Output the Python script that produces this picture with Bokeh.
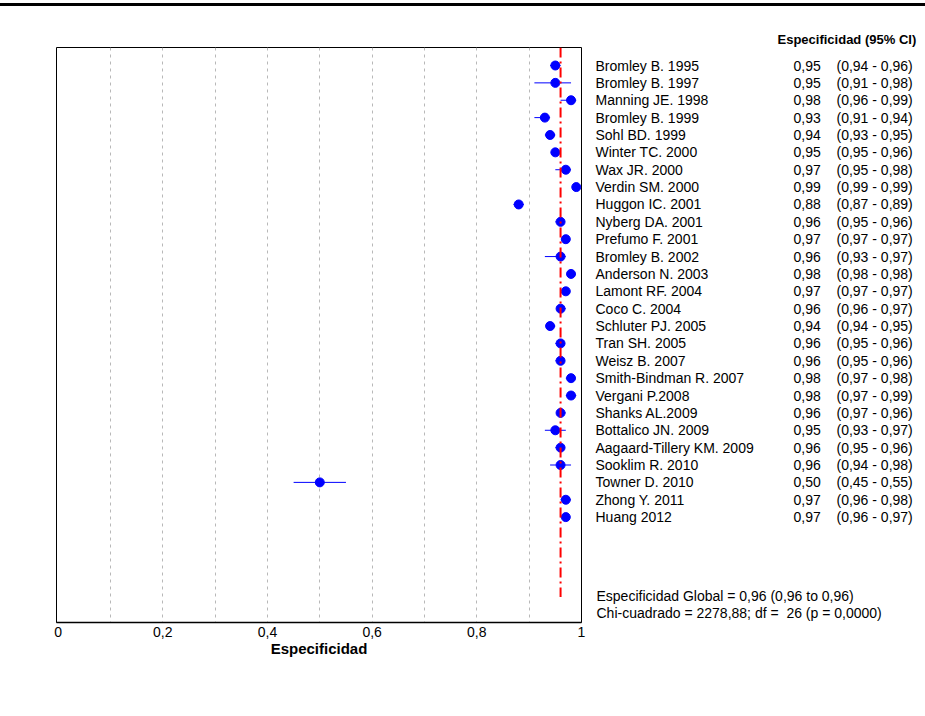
from bokeh.plotting import figure
from bokeh.models import ColumnDataSource, Range1d, FixedTicker, Div
from bokeh.layouts import column, row
from bokeh.core.properties import value
from bokeh.embed import file_html
from bokeh.resources import INLINE

# ---------------- data ----------------
studies = [
    "Bromley B. 1995", "Bromley B. 1997", "Manning JE. 1998", "Bromley B. 1999",
    "Sohl BD. 1999", "Winter TC. 2000", "Wax JR. 2000", "Verdin SM. 2000",
    "Huggon IC. 2001", "Nyberg DA. 2001", "Prefumo F. 2001", "Bromley B. 2002",
    "Anderson N. 2003", "Lamont RF. 2004", "Coco C. 2004", "Schluter PJ. 2005",
    "Tran SH. 2005", "Weisz B. 2007", "Smith-Bindman R. 2007", "Vergani P.2008",
    "Shanks AL.2009", "Bottalico JN. 2009", "Aagaard-Tillery KM. 2009",
    "Sooklim R. 2010", "Towner D. 2010", "Zhong Y. 2011", "Huang 2012",
]
spec = [0.95, 0.95, 0.98, 0.93, 0.94, 0.95, 0.97, 0.99, 0.88, 0.96, 0.97, 0.96,
        0.98, 0.97, 0.96, 0.94, 0.96, 0.96, 0.98, 0.98, 0.96, 0.95, 0.96, 0.96,
        0.50, 0.97, 0.97]
ci_low = [0.94, 0.91, 0.96, 0.91, 0.93, 0.95, 0.95, 0.99, 0.87, 0.95, 0.97, 0.93,
          0.98, 0.97, 0.96, 0.94, 0.95, 0.95, 0.97, 0.97, 0.97, 0.93, 0.95, 0.94,
          0.45, 0.96, 0.96]
ci_high = [0.96, 0.98, 0.99, 0.94, 0.95, 0.96, 0.98, 0.99, 0.89, 0.96, 0.97, 0.97,
           0.98, 0.97, 0.97, 0.95, 0.96, 0.96, 0.98, 0.99, 0.96, 0.97, 0.96, 0.98,
           0.55, 0.98, 0.97]
pooled = 0.96
header_text = "Especificidad (95% CI)"
pooled_text = "Especificidad Global = 0,96 (0,96 to 0,96)"
chi_text = "Chi-cuadrado = 2278,88; df =  26 (p = 0,0000)"
x_title = "Especificidad"
x_ticks = [0, 0.2, 0.4, 0.6, 0.8, 1.0]
x_tick_labels = ["0", "0,2", "0,4", "0,6", "0,8", "1"]
grid_ticks = [0.1, 0.2, 0.3, 0.4, 0.5, 0.6, 0.7, 0.8, 0.9]


def fmt(v):
    return f"{v:.2f}".replace(".", ",")


def keep_spaces(s):
    # SVG collapses runs of spaces; keep the double space visible
    return s.replace("  ", " \u00a0")


rows = list(range(len(studies)))
src = ColumnDataSource(dict(
    y=rows,
    study=studies,
    spec=spec,
    lo=ci_low,
    hi=ci_high,
    est=[fmt(v) for v in spec],
    ci=[f"({fmt(a)} - {fmt(b)})" for a, b in zip(ci_low, ci_high)],
))

FONT = "Liberation Sans"
ROW_PX = 17.37          # pixel height of one row
H = 700                 # figure height
TOP_OFF = 6             # page y where the figures start
FRAME_TOP, FRAME_BOT = 47, 622   # page y of the forest-plot frame
FIRST_ROW = 65
Y_TOP = -(FIRST_ROW - FRAME_TOP) / ROW_PX
Y_BOTTOM = Y_TOP + (FRAME_BOT - FRAME_TOP) / ROW_PX
LEFT_W = 590
RIGHT_W = 925 - LEFT_W
BORDERS = dict(min_border_top=FRAME_TOP - TOP_OFF,
               min_border_bottom=H + TOP_OFF - FRAME_BOT)

# ---------------- forest plot ----------------
p = figure(width=LEFT_W, height=H,
           x_range=Range1d(-0.003, 1.0), y_range=Range1d(Y_BOTTOM, Y_TOP),
           output_backend="svg", toolbar_location=None,
           min_border_left=56, min_border_right=LEFT_W - 581, **BORDERS)

p.outline_line_color = "black"
p.outline_line_width = 1
p.background_fill_color = "white"
p.border_fill_color = "white"

p.yaxis.visible = False
p.ygrid.visible = False

p.xaxis.ticker = FixedTicker(ticks=x_ticks)
p.xaxis.major_label_overrides = {t: l for t, l in zip(x_ticks, x_tick_labels)}
p.xaxis.major_tick_line_color = None
p.xaxis.minor_tick_line_color = None
p.xaxis.major_tick_out = 0
p.xaxis.major_tick_in = 0
p.xaxis.major_label_standoff = 4
p.xaxis.axis_line_color = "black"
p.xaxis.axis_line_width = 1.5
p.xaxis.major_label_text_font = FONT
p.xaxis.major_label_text_font_size = "14px"
p.xaxis.major_label_text_color = "black"
p.xaxis.axis_label = x_title
p.xaxis.axis_label_text_font = FONT
p.xaxis.axis_label_text_font_size = "15px"
p.xaxis.axis_label_text_font_style = "bold"
p.xaxis.axis_label_text_color = "black"
p.xaxis.axis_label_standoff = 0

p.xgrid.ticker = FixedTicker(ticks=grid_ticks)
p.xgrid.grid_line_color = "#b8b8b8"
p.xgrid.grid_line_dash = "3 4"
p.xgrid.grid_line_width = 1

p.segment(x0="lo", y0="y", x1="hi", y1="y", source=src,
          line_color="#0000ff", line_width=1)
p.scatter(x="spec", y="y", source=src, size=9, marker="circle",
          fill_color="#0000ff", line_color="#0000ff")
p.segment(x0=[pooled], y0=[Y_TOP], x1=[pooled], y1=[30.6],
          line_color="#ff0000", line_width=2, line_dash="10 4 2 4")

# ---------------- right-hand table ----------------
t = figure(width=RIGHT_W, height=H,
           x_range=Range1d(LEFT_W, 925), y_range=p.y_range,
           output_backend="svg", toolbar_location=None,
           min_border_left=0, min_border_right=0, **BORDERS)
t.axis.visible = False
t.grid.visible = False
t.outline_line_color = None
t.background_fill_color = "white"
t.border_fill_color = "white"

t.title.text = header_text
t.title.align = "left"
t.title.offset = 777 - LEFT_W
t.title.text_font = FONT
t.title.text_font_size = "13px"
t.title.text_font_style = "bold"
t.title.text_color = "black"
t.title.standoff = 1

tstyle = dict(text_font=value(FONT), text_font_size="14px",
              text_baseline="middle", text_color="black")
t.text(x=595, y="y", text="study", source=src, **tstyle)
t.text(x=793, y="y", text="est", source=src, **tstyle)
t.text(x=836, y="y", text="ci", source=src, **tstyle)
t.text(x=[596, 596],
       y=[(595 - FIRST_ROW) / ROW_PX, (612 - FIRST_ROW) / ROW_PX],
       text=[pooled_text, keep_spaces(chi_text)], **tstyle)

top_rule = Div(width=925, height=3, margin=(3, 0, 0, 0),
               styles={"background-color": "black"})
layout = column(top_rule, row(p, t, spacing=0), spacing=0)

open("out.html", "w").write(file_html(layout, INLINE))
